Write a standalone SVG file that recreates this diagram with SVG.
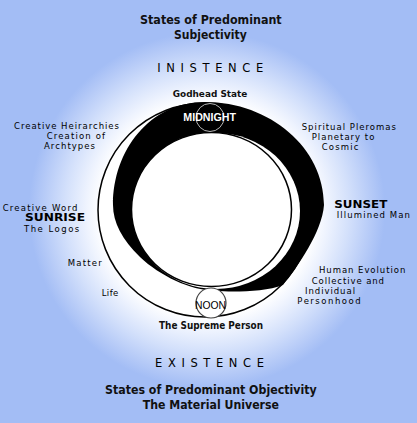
<svg xmlns="http://www.w3.org/2000/svg" width="417" height="423" viewBox="0 0 417 423">
<defs>
<radialGradient id="glow" gradientUnits="userSpaceOnUse" cx="207" cy="210" r="178">
<stop offset="0" stop-color="#ffffff"/>
<stop offset="0.6" stop-color="#ffffff"/>
<stop offset="0.68" stop-color="#eef3fe"/>
<stop offset="0.8" stop-color="#d3e0fb"/>
<stop offset="0.93" stop-color="#b4c9f7"/>
<stop offset="1" stop-color="#a3bdf5"/>
</radialGradient>
<style>
text{fill:#000;font-family:"DejaVu Sans","Liberation Sans",sans-serif;}
.title{font-size:11.5px;font-weight:bold;fill:#111;}
.big{font-size:11.5px;}
.sub{font-size:9px;font-weight:bold;fill:#111;}
.sm{font-size:8.5px;}
.disp{font-size:10.5px;font-weight:bold;}
</style>
</defs>
<rect width="417" height="423" fill="#a3bdf5"/>
<rect width="417" height="423" fill="url(#glow)"/>

<g id="wheel">
<circle cx="205" cy="210" r="107" fill="#fff" stroke="#000" stroke-width="1.5"/>
<path d="M205,102 C270,102 324,148 324,205 C322,232 298,266 283,285 C265,292 235,292 215,291 C190,290 160,276 140,257 C122,240 113,222 113,205 C113,150 150,102 205,102 Z" fill="#000"/>
<ellipse cx="216" cy="211" rx="84" ry="78" fill="#fff"/>
<ellipse cx="211.5" cy="209.5" rx="80" ry="77" fill="#fff" stroke="#000" stroke-width="1.5"/>
</g>

<g id="midnight">
<circle cx="210" cy="117.5" r="14" fill="none" stroke="#b5b5b5" stroke-width="1"/>
<text x="183.3" y="120.7" textLength="52.7" lengthAdjust="spacingAndGlyphs" style="fill:#fff;font-family:'Liberation Sans',sans-serif;font-size:11px;font-weight:bold">MIDNIGHT</text>
</g>
<g id="noon">
<circle cx="211" cy="303" r="15" fill="#fff" stroke="#444" stroke-width="1.2"/>
<text x="195" y="309" textLength="31" lengthAdjust="spacingAndGlyphs" style="font-family:'Liberation Sans',sans-serif;font-size:11px">NOON</text>
</g>

<g id="top">
<text class="title" x="140" y="24.3" textLength="141.7" lengthAdjust="spacingAndGlyphs">States of Predominant</text>
<text class="title" x="174" y="39" textLength="72.7" lengthAdjust="spacingAndGlyphs">Subjectivity</text>
<text class="big" x="157.3" y="71.7" textLength="106" lengthAdjust="spacing">INISTENCE</text>
<text class="sub" x="172.7" y="96.7" textLength="74.7" lengthAdjust="spacingAndGlyphs">Godhead State</text>
</g>

<g id="bottom">
<text class="sub" style="font-size:10px" x="159" y="329" textLength="104" lengthAdjust="spacingAndGlyphs">The Supreme Person</text>
<text class="big" x="155" y="366.7" textLength="109" lengthAdjust="spacing">EXISTENCE</text>
<text class="title" x="105" y="394" textLength="211.7" lengthAdjust="spacingAndGlyphs">States of Predominant Objectivity</text>
<text class="title" x="142.7" y="409" textLength="136.3" lengthAdjust="spacingAndGlyphs">The Material Universe</text>
</g>

<g id="left">
<text class="sm" x="14" y="129.3" textLength="105" lengthAdjust="spacing">Creative Heirarchies</text>
<text class="sm" x="46.7" y="139.3" textLength="58.3" lengthAdjust="spacing">Creation of</text>
<text class="sm" x="44" y="148.5" textLength="51" lengthAdjust="spacing">Archtypes</text>
<text class="sm" x="2.7" y="210.5" textLength="74.7" lengthAdjust="spacing">Creative Word</text>
<text class="disp" x="25" y="221" textLength="60" lengthAdjust="spacingAndGlyphs">SUNRISE</text>
<text class="sm" x="24" y="231.6" textLength="55.3" lengthAdjust="spacing">The Logos</text>
<text class="sm" x="67.7" y="266" textLength="34" lengthAdjust="spacing">Matter</text>
<text class="sm" x="101.7" y="296" textLength="16.6" lengthAdjust="spacing">Life</text>
</g>

<g id="right">
<text class="sm" x="301.7" y="130" textLength="94.3" lengthAdjust="spacing">Spiritual Pleromas</text>
<text class="sm" x="311.7" y="140" textLength="62.7" lengthAdjust="spacing">Planetary to</text>
<text class="sm" x="321.7" y="150" textLength="36.7" lengthAdjust="spacing">Cosmic</text>
<text class="disp" x="334.3" y="207.8" textLength="53" lengthAdjust="spacingAndGlyphs">SUNSET</text>
<text class="sm" x="336.7" y="218.4" textLength="73.3" lengthAdjust="spacing">Illumined Man</text>
<text class="sm" x="319" y="272.7" textLength="86.3" lengthAdjust="spacing">Human Evolution</text>
<text class="sm" x="311.7" y="283.7" textLength="72.3" lengthAdjust="spacing">Collective and</text>
<text class="sm" x="305" y="294.3" textLength="50" lengthAdjust="spacing">Individual</text>
<text class="sm" x="297.3" y="304.3" textLength="63.3" lengthAdjust="spacing">Personhood</text>
</g>
</svg>
